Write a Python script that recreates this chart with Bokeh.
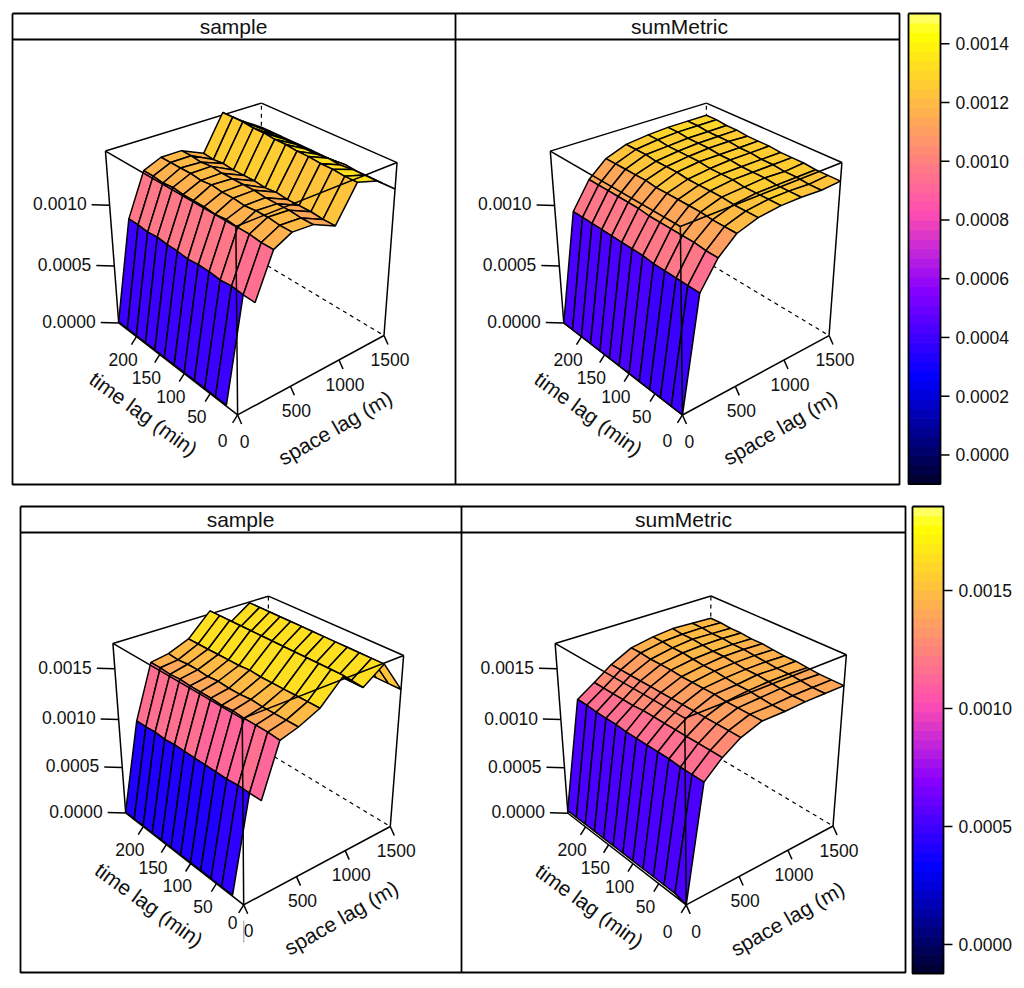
import math
import numpy as np
from bokeh.plotting import figure
from bokeh.core.properties import value
from bokeh.embed import file_html
from bokeh.resources import INLINE

# ---------------- data (variogram values, units of 1e-5) -----------------
time_lags = [0, 20, 40, 60, 80, 100, 120, 140, 160, 180, 200, 220, 240]
space_lags = [0, 160, 320, 485, 680, 895, 1095, 1300, 1500]
nan = float("nan")

sample_top = [
    [nan, 1, 1, 1, 1, 1, 1, 1, 1, 1, 1, 1, 1],
    [82, 82, 83, 82, 83, 83, 82, 83, 83, 84, 83, 84, 84],
    [115, 115, 116, 116, 117, 116, 117, 117, 117, 118, 117, 118, 118],
    [122, 122, 123, 123, 122, 123, 123, 124, 123, 124, 124, 124, 124],
    [121, 121, 122, 122, 122, 123, 123, 123, 123, 124, 123, 124, 124],
    [113, 113, 114, 114, 114, 115, 114, 115, 115, 115, 116, 115, 116],
    [139, 139, 140, 140, 141, 141, 142, 142, 143, 143, 144, 144, 144],
    [134, 134, 134, 133, 134, 133, 133, 133, 133, 132, 133, 132, 132],
    [122, 122, 122, 122, 123, 122, 122, 122, 122, 122, 122, 122, 122],
]
sum_top = [
    [0, 0, 0, 0, 0, 0, 0, 0, 0, 0, 0, 0, 0],
    [89, 89, 89, 89, 89, 90, 90, 90, 90, 90, 90, 90, 90],
    [109, 109, 110, 110, 110, 110, 110, 111, 111, 111, 111, 111, 111],
    [121, 121, 121, 122, 122, 122, 122, 122, 123, 123, 123, 123, 123],
    [126, 126, 126, 127, 127, 127, 127, 128, 128, 128, 129, 129, 129],
    [128, 128, 128, 128, 129, 129, 129, 130, 130, 130, 130, 131, 131],
    [128, 128, 128, 129, 129, 129, 130, 130, 131, 131, 131, 132, 132],
    [127, 127, 128, 128, 129, 129, 130, 130, 131, 131, 131, 132, 132],
    [128, 128, 128, 129, 129, 129, 130, 130, 130, 131, 131, 132, 132],
]
sample_bottom = [
    [nan, 1, 1, 1, 1, 1, 1, 1, 1, 1, 1, 1, 1],
    [94, 94, 94, 93, 93, 93, 93, 93, 93, 92, 93, 92, 92],
    [142, 143, 143, 143, 144, 143, 144, 144, 144, 145, 144, 145, 145],
    [147, 147, 147, 147, 148, 147, 147, 148, 147, 148, 148, 147, 148],
    [156, 156, 156, 156, 156, 156, 157, 156, 156, 156, 156, 156, 156],
    [177, 177, 177, 177, 177, 177, 177, 177, 177, 177, 177, 177, 177],
    [159, 159, 159, 159, 159, 159, 159, 159, 159, 159, 159, 159, 159],
    [173, 173, 173, 173, 173, 173, 173, 173, 173, 173, 173, 173, 173],
    [142, 142, 142, 142, 142, 143, 142, 142, 142, 142, 142, 142, 142],
]
sum_bottom = [
    [0, 3, 3, 3, 3, 3, 3, 3, 3, 3, 3, 3, 3],
    [111, 111, 111, 112, 112, 112, 112, 112, 113, 113, 113, 114, 114],
    [126, 126, 126, 126, 126, 126, 126, 126, 125, 125, 125, 125, 125],
    [137, 137, 137, 137, 137, 137, 137, 137, 137, 137, 137, 137, 137],
    [144, 144, 144, 144, 145, 145, 145, 145, 146, 146, 146, 147, 147],
    [144, 144, 145, 146, 146, 147, 148, 148, 149, 150, 150, 151, 151],
    [145, 145, 146, 147, 148, 148, 149, 150, 150, 151, 152, 152, 153],
    [145, 145, 146, 147, 147, 148, 149, 150, 150, 151, 151, 152, 152],
    [145, 145, 145, 146, 147, 147, 148, 149, 149, 150, 150, 151, 151],
]
Z_UNIT = 1e-5

time_ticks = [0, 50, 100, 150, 200]
space_ticks = [0, 500, 1000, 1500]
z_ticks_top = [0.0, 0.0005, 0.0010]
z_ticks_bottom = [0.0, 0.0005, 0.0010, 0.0015]
key_ticks_top = [0.0, 0.0002, 0.0004, 0.0006, 0.0008, 0.0010, 0.0012, 0.0014]
key_ticks_bottom = [0.0, 0.0005, 0.0010, 0.0015]
key_range_top = (-0.0000988, 0.0015026)
key_range_bottom = (-0.000123, 0.001856)

# ---------------- projection set-up (image pixels) -----------------
T_MAX, S_MAX = 240.0, 1500.0


def bpy(i):
    r = 0.0 if i < .25 else (i / .32 - .78125 if i < .57 else 1.0)
    g = 0.0 if i < .42 else (2 * i - .84 if i < .92 else 1.0)
    b = 4 * i if i < .25 else (1.0 if i < .42 else (-2 * i + 1.84 if i < .92 else i / .08 - 11.5))
    return "#%02x%02x%02x" % tuple(int(round(255 * min(max(c, 0), 1))) for c in (r, g, b))


N_LEVELS = 50
KEY_COLORS = [bpy(i) for i in np.linspace(0.05, 0.95, N_LEVELS)]


def fit_camera(points):
    """points: list of (t, s, z_fraction, px, py). Returns a 3x4 projective matrix."""
    A = []
    for t, s, w, px, py in points:
        X = [t / T_MAX, s / S_MAX, w, 1.0]
        u, v = (px - 500) / 100.0, (py - 500) / 100.0
        A.append(X + [0, 0, 0, 0] + [-u * c for c in X])
        A.append([0, 0, 0, 0] + X + [-v * c for c in X])
    return np.linalg.svd(np.array(A))[2][-1].reshape(3, 4)


def project(P, t, s, w):
    X = np.array([t / T_MAX, s / S_MAX, w, 1.0])
    h = P @ X
    return h[0] / h[2] * 100 + 500, h[1] / h[2] * 100 + 500


panels = [
    dict(title="sample", tx=233, ty=26, data=sample_top, zmax=0.00142, zticks=z_ticks_top, key=key_range_top,
         near_b=(236.7, 413.3), near_t=(235.5, 226.5), left_b=(118.3, 321.7), left_t=(105, 151.7),
         right_b=(382.7, 334.3), right_t=(396.7, 161.7), back_t=(260.7, 102.3), back_b=(260.7, 262),
         zpts=[(0.0005, 114, 265), (0.0010, 109, 204)],
         t100=(182.7, 375), t200=(136, 336), s500=(291.7, 386), s1000=(338.3, 360),
         t0_off=(-15, 26), s0_off=(7, 26.7), tl_off=(-93.7, 0), sl_off=(98, 14)),
    dict(title="sumMetric", tx=679, ty=26, data=sum_top, zmax=0.00142, zticks=z_ticks_top, key=key_range_top,
         near_b=(681.7, 413.3), near_t=(679.5, 226.5), left_b=(563.3, 321.7), left_t=(550, 151.7),
         right_b=(827.7, 334.3), right_t=(841.7, 161.7), back_t=(705.7, 102.3), back_b=(705.7, 262),
         zpts=[(0.0005, 559, 265), (0.0010, 554, 204)],
         t100=(627.7, 375), t200=(581, 336), s500=(736.7, 386), s1000=(783.3, 360),
         t0_off=(-15, 26), s0_off=(7, 26.7), tl_off=(-93.7, 0), sl_off=(98, 14)),
    dict(title="sample", tx=240, ty=519, data=sample_bottom, zmax=0.00174, zticks=z_ticks_bottom, key=key_range_bottom,
         near_b=(242.7, 903.3), near_t=(241.7, 719.3), left_b=(126, 811.7), left_t=(112.7, 643.3),
         right_b=(389, 825), right_t=(403.3, 655), back_t=(267.3, 595), back_b=(267.3, 753.7),
         zpts=[(0.0005, 123.3, 766), (0.0010, 118.3, 718.3), (0.0015, 114, 668.3)],
         t100=(188.3, 865), t200=(141, 826), s500=(298.3, 876), s1000=(345, 850),
         t0_off=(-11, 17.3), s0_off=(5, 26), tl_off=(-94, 1), sl_off=(98, 14)),
    dict(title="sumMetric", tx=683, ty=519, data=sum_bottom, zmax=0.00174, zticks=z_ticks_bottom, key=key_range_bottom,
         near_b=(686, 903.3), near_t=(684, 718.3), left_b=(568.3, 811.7), left_t=(555, 643.3),
         right_b=(831.7, 825), right_t=(846, 654), back_t=(710, 595), back_b=(710, 753),
         zpts=[(0.0005, 565, 766.7), (0.0010, 560, 719.3), (0.0015, 556.7, 668.3)],
         t100=(631, 865), t200=(583, 826), s500=(741, 876), s1000=(787, 850),
         t0_off=(-18.7, 26.7), s0_off=(10, 27), tl_off=(-97, 2), sl_off=(101, 15)),
]

p = figure(width=1016, height=980, x_range=(0, 1016), y_range=(980, 0),
           output_backend="svg", toolbar_location=None, min_border=0,
           x_axis_location=None, y_axis_location=None)
p.grid.visible = False
p.outline_line_color = None
p.background_fill_color = "white"

FONT = value("Liberation Sans")
FS = "17.5px"
FS_BIG = "21px"
LW = 1.5


def seg(P, a, b):
    xa, ya = project(P, *a)
    xb, yb = project(P, *b)
    return [xa, xb], [ya, yb]


def label(x, y, text, align="center", angle=0.0, size=FS):
    p.text(x=[x], y=[y], text=[text], text_font=FONT, text_font_size=size, text_color="#111111",
           text_align=align, text_baseline="middle", angle=[math.radians(angle)])


def lines(items, width=LW, dash="solid", color="black"):
    p.multi_line(xs=[i[0] for i in items], ys=[i[1] for i in items], line_color=color,
                 line_width=width, line_dash=dash)


for cfg in panels:
    pts = [(0, 0, 0, *cfg["near_b"]), (0, 0, 1, *cfg["near_t"]),
           (T_MAX, 0, 0, *cfg["left_b"]), (T_MAX, 0, 1, *cfg["left_t"]),
           (0, S_MAX, 0, *cfg["right_b"]), (0, S_MAX, 1, *cfg["right_t"]),
           (T_MAX, S_MAX, 1, *cfg["back_t"]), (T_MAX, S_MAX, 0, *cfg["back_b"]),
           (100, 0, 0, *cfg["t100"]), (200, 0, 0, *cfg["t200"]),
           (0, 500, 0, *cfg["s500"]), (0, 1000, 0, *cfg["s1000"])]
    for zv, px, py in cfg["zpts"]:
        pts.append((T_MAX, 0, zv / cfg["zmax"], px, py))
    P = fit_camera(pts)

    A, B, C, D = (T_MAX, 0), (0, 0), (0, S_MAX), (T_MAX, S_MAX)  # left, near, right, back

    # back of the box
    lines([seg(P, (*D, 0), (*A, 0)), seg(P, (*D, 0), (*C, 0)), seg(P, (*D, 0), (*D, 1))], dash="4 4", width=1.2)
    lines([seg(P, (*A, 1), (*D, 1)), seg(P, (*D, 1), (*C, 1)),
           seg(P, (*A, 0), (*A, 1)), seg(P, (*C, 0), (*C, 1))])

    # surface, far facets first
    data = np.array(cfg["data"], dtype=float) * Z_UNIT
    lo, hi = cfg["key"]
    xs, ys, cols = [], [], []
    for i in range(len(time_lags) - 2, -1, -1):
        for j in range(len(space_lags) - 2, -1, -1):
            corners = [(i, j), (i + 1, j), (i + 1, j + 1), (i, j + 1)]
            zs = [data[j2, i2] for i2, j2 in corners]
            if any(np.isnan(zs)):
                continue
            qs = [project(P, time_lags[i2], space_lags[j2], data[j2, i2] / cfg["zmax"]) for i2, j2 in corners]
            xs.append([q[0] for q in qs])
            ys.append([q[1] for q in qs])
            k = int((np.mean(zs) - lo) / (hi - lo) * N_LEVELS) - 1
            cols.append(KEY_COLORS[min(max(k, 0), N_LEVELS - 1)])
    p.patches(xs=xs, ys=ys, fill_color=cols, line_color="black", line_width=LW)

    # front of the box
    lines([seg(P, (*A, 1), (*B, 1)), seg(P, (*B, 1), (*C, 1)), seg(P, (*B, 0), (*B, 1)),
           seg(P, (*A, 0), (*B, 0)), seg(P, (*B, 0), (*C, 0))])

    # axes: ticks and labels
    tick_items = []
    for t in time_ticks:
        x0, y0 = project(P, t, 0, 0)
        tick_items.append(([x0, x0 - 5], [y0, y0 + 8]))
        off = cfg["t0_off"] if t == 0 else (-13.3, 22.5)
        label(x0 + off[0], y0 + off[1], str(t))
    for s in space_ticks:
        x0, y0 = project(P, 0, s, 0)
        tick_items.append(([x0, x0 + 4], [y0, y0 + 9]))
        off = cfg["s0_off"] if s == 0 else (6, 24.3)
        label(x0 + off[0], y0 + off[1], str(s))
    for zv in cfg["zticks"]:
        x0, y0 = project(P, T_MAX, 0, zv / cfg["zmax"])
        tick_items.append(([x0, x0 - 18], [y0, y0 - 0.5]))
        label(x0 - 23, y0 - 1.5, "%.4f" % zv, align="right")
    lines(tick_items)

    nx, ny = cfg["near_b"]
    label(nx + cfg["tl_off"][0], ny + cfg["tl_off"][1], "time lag (min)", angle=-36, size=FS_BIG)
    label(nx + cfg["sl_off"][0], ny + cfg["sl_off"][1], "space lag (m)", angle=30, size=FS_BIG)
    label(cfg["tx"], cfg["ty"], cfg["title"], size=FS_BIG)

# small stray mark under the lower-left panel's origin
lines([([243.3, 243.3], [920, 942])], width=1.0, color="#999999")

# panel frames and strips
FW = 1.8
lines([([12, 899, 899, 12, 12], [13, 13, 484, 484, 13]), ([455, 455], [13, 484]), ([12, 899], [39, 39]),
       ([20, 905, 905, 20, 20], [506, 506, 972, 972, 506]), ([461, 461], [506, 972]), ([20, 905], [532, 532])],
      width=FW)


# colour keys
def colour_key(x0, x1, y_top, y_bottom, rng, ticks):
    lo, hi = rng
    levels = np.linspace(lo, hi, N_LEVELS + 1)
    to_y = lambda z: y_bottom + (z - lo) / (hi - lo) * (y_top - y_bottom)
    p.quad(left=[x0] * N_LEVELS, right=[x1] * N_LEVELS,
           top=[to_y(z) for z in levels[1:]], bottom=[to_y(z) for z in levels[:-1]],
           fill_color=KEY_COLORS, line_color=KEY_COLORS, line_width=1.0)
    lines([([x0, x1, x1, x0, x0], [y_top, y_top, y_bottom, y_bottom, y_top])], width=FW)
    lines([([x1, x1 + 9], [to_y(z), to_y(z)]) for z in ticks])
    for z in ticks:
        label(x1 + 15, to_y(z), "%.4f" % z, align="left")


colour_key(908, 940, 13, 483.5, key_range_top, key_ticks_top)
colour_key(912, 943, 506, 973, key_range_bottom, key_ticks_bottom)

open("out.html", "w").write(file_html(p, INLINE))
